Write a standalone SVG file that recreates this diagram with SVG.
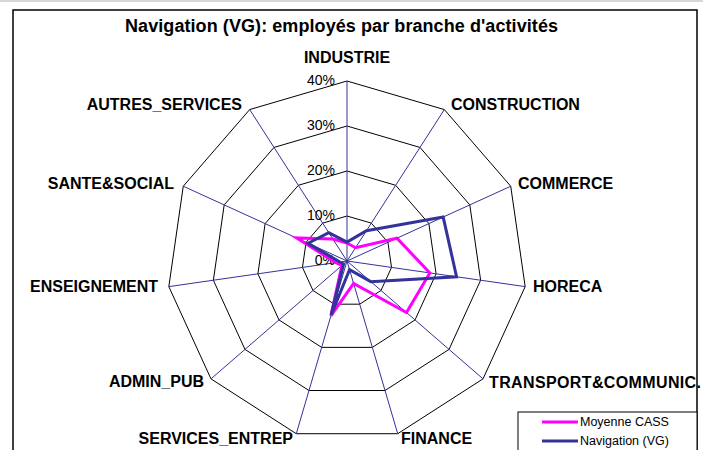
<svg xmlns="http://www.w3.org/2000/svg" width="703" height="450" viewBox="0 0 703 450">
<style>
.ring{fill:none;stroke:#000;stroke-width:1}
.axis{stroke:#333399;stroke-width:1}
.cat{font-family:"Liberation Sans",Arial,sans-serif;font-weight:bold;font-size:16px;fill:#000}
.pct{font-family:"Liberation Sans",Arial,sans-serif;font-size:14px;fill:#000;text-anchor:end}
.title{font-family:"Liberation Sans",Arial,sans-serif;font-weight:bold;font-size:18px;fill:#000}
.leg{font-family:"Liberation Sans",Arial,sans-serif;font-size:12.5px;fill:#000}
.cass{fill:none;stroke:#FF00FF;stroke-width:3;stroke-linejoin:miter}
.vg{fill:none;stroke:#333399;stroke-width:3;stroke-linejoin:miter}
</style>
<rect x="0" y="0" width="703" height="450" fill="#fff"/>
<line x1="0" y1="1" x2="703" y2="1" stroke="#c8c8c8" stroke-width="1.5"/>
<rect id="chart-border" x="13" y="10" width="684" height="460" fill="none" stroke="#000" stroke-width="1.5"/>
<text class="title" x="125" y="32" textLength="433" lengthAdjust="spacing">Navigation (VG): employés par branche d'activités</text>

<g id="grid">
<polygon class="ring" points="347,216 371.33,223.14 387.93,242.31 391.54,267.41 381.01,290.47 359.68,304.18 334.32,304.18 312.99,290.47 302.46,267.41 306.07,242.31 322.67,223.14"/>
<polygon class="ring" points="347,171 395.66,185.29 428.87,223.61 436.09,273.81 415.02,319.94 372.36,347.36 321.64,347.36 278.98,319.94 257.91,273.81 265.13,223.61 298.34,185.29"/>
<polygon class="ring" points="347,126 419.99,147.43 469.8,204.91 480.63,280.22 449.02,349.4 385.03,390.53 308.97,390.53 244.98,349.4 213.37,280.22 224.2,204.91 274.01,147.43"/>
<polygon class="ring" points="347,81 444.32,109.57 510.73,186.22 525.17,286.62 483.03,378.87 397.71,433.71 296.29,433.71 210.97,378.87 168.83,286.62 183.27,186.22 249.68,109.57"/>
</g>

<g id="connectors">
<line class="axis" x1="347" y1="261" x2="347" y2="81"/>
<line class="axis" x1="347" y1="261" x2="444.32" y2="109.57"/>
<line class="axis" x1="347" y1="261" x2="510.73" y2="186.22"/>
<line class="axis" x1="347" y1="261" x2="525.17" y2="286.62"/>
<line class="axis" x1="347" y1="261" x2="483.03" y2="378.87"/>
<line class="axis" x1="347" y1="261" x2="397.71" y2="433.71"/>
<line class="axis" x1="347" y1="261" x2="296.29" y2="433.71"/>
<line class="axis" x1="347" y1="261" x2="210.97" y2="378.87"/>
<line class="axis" x1="347" y1="261" x2="168.83" y2="286.62"/>
<line class="axis" x1="347" y1="261" x2="183.27" y2="186.22"/>
<line class="axis" x1="347" y1="261" x2="249.68" y2="109.57"/>
</g>

<g id="scale">
<text class="pct" x="335" y="85">40%</text>
<text class="pct" x="335" y="130">30%</text>
<text class="pct" x="335" y="175">20%</text>
<text class="pct" x="335" y="220">10%</text>
<text class="pct" x="335" y="265">0%</text>
</g>

<g id="series-cass">
<polygon class="cass" points="347,243 355.52,247.75 396.94,238.19 429.85,272.91 406.51,312.57 353.59,283.45 330.9,315.83 341.9,265.42 335.86,262.6 296.65,238 332.89,239.04"/>
</g>
<g id="series-vg">
<polygon class="vg" points="347,242.1 366.46,230.71 443.19,217.07 456.57,276.76 370.81,281.63 349.54,269.64 331.15,314.97 343.6,263.95 339.87,262.02 308.11,243.24 328.75,232.61"/>
</g>

<g id="node-industrie"><text class="cat" x="347" y="63" text-anchor="middle">INDUSTRIE</text></g>
<g id="node-construction"><text class="cat" x="451" y="110">CONSTRUCTION</text></g>
<g id="node-commerce"><text class="cat" x="518" y="189">COMMERCE</text></g>
<g id="node-horeca"><text class="cat" x="533" y="292">HORECA</text></g>
<g id="node-transport"><text class="cat" x="489" y="388" textLength="212" lengthAdjust="spacing">TRANSPORT&amp;COMMUNIC.</text></g>
<g id="node-finance"><text class="cat" x="401" y="444">FINANCE</text></g>
<g id="node-services-entrep"><text class="cat" x="293" y="444" text-anchor="end">SERVICES_ENTREP</text></g>
<g id="node-admin-pub"><text class="cat" x="204" y="387" text-anchor="end">ADMIN_PUB</text></g>
<g id="node-enseignement"><text class="cat" x="158" y="292" text-anchor="end">ENSEIGNEMENT</text></g>
<g id="node-sante"><text class="cat" x="174" y="189" text-anchor="end">SANTE&amp;SOCIAL</text></g>
<g id="node-autres"><text class="cat" x="242" y="110" text-anchor="end">AUTRES_SERVICES</text></g>

<g id="legend">
<rect x="518" y="412" width="179" height="50" fill="#fff" stroke="#000" stroke-width="1"/>
<line x1="542" y1="422" x2="578" y2="422" stroke="#FF00FF" stroke-width="3"/>
<text class="leg" x="580" y="426">Moyenne CASS</text>
<line x1="542" y1="441" x2="578" y2="441" stroke="#333399" stroke-width="3"/>
<text class="leg" x="580" y="445">Navigation (VG)</text>
</g>
</svg>
